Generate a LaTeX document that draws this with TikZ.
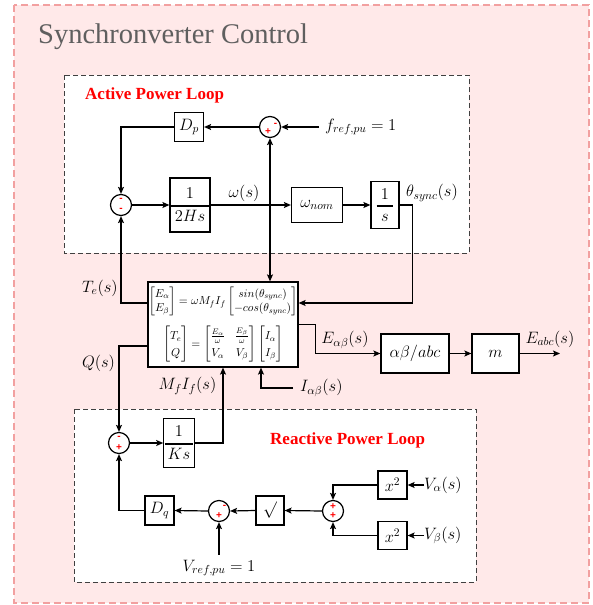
\RequirePackage{fix-cm}
\documentclass[tikz,border=0pt]{standalone}
\usepackage{amsmath}
\usepackage[no-math]{fontspec}
\setmainfont{Liberation Serif}
\newfontfamily\signfont{Liberation Sans}
\usetikzlibrary{arrows.meta}
\definecolor{panelpink}{RGB}{255,233,233}
\definecolor{panelline}{RGB}{242,160,160}
\definecolor{titlegray}{RGB}{95,95,95}

\begin{document}
\begin{tikzpicture}[x=1pt,y=-1pt,
  mth/.style={font=\fontsize{16.5}{19}\selectfont},
  block/.style={draw,line width=1.2pt,fill=white,inner sep=0pt,mth},
  sumj/.style={draw,circle,line width=1.2pt,fill=white,minimum size=21pt,inner sep=0pt},
  sgn/.style={text=red,inner sep=0pt,font=\fontsize{10}{10}\signfont\bfseries},
  lbl/.style={inner sep=0pt,mth},
  arr/.style={-{Stealth[length=7pt,width=6pt,inset=1.5pt]},line width=1.2pt},
  frame/.style={black!75,fill=white,line width=0.8pt,dash pattern=on 5pt off 3pt},
  looptitle/.style={text=red,font=\fontsize{17}{20}\selectfont\bfseries,inner sep=0pt,anchor=west}]

\useasboundingbox (0,0) rectangle (593,605);

% --- Outer panel ---
\draw[panelline,fill=panelpink,line width=1.5pt,dash pattern=on 7pt off 4pt] (14,5) rectangle (589,603);
\node[anchor=west,inner sep=0pt,text=titlegray,font=\fontsize{28.5}{32}\selectfont] (title) at (38,37) {Synchronverter Control};

% --- Loop frames ---
\draw[frame] (64,75) rectangle (469,253);
\draw[frame] (74,409) rectangle (476,582);
\node[looptitle] (aplt) at (85,95) {Active Power Loop};
\node[looptitle] (rplt) at (270,440) {Reactive Power Loop};

% --- Active power loop ---
\node[sumj] (s1) at (270,127) {};
\node[sumj] (s2) at (121,205) {};
\node[block,minimum width=29pt,minimum height=29pt] (Dp) at (189,127) {$D_p$};
\node[block,minimum width=38pt,minimum height=54pt] (H) at (190,205) {$\genfrac{}{}{1.3pt}{0}{1}{\mkern4mu2Hs\mkern4mu}$};
\node[block,minimum width=51pt,minimum height=35pt] (wn) at (317,205) {$\omega_{nom}$};
\node[block,minimum width=28pt,minimum height=47pt] (I) at (385,205) {$\genfrac{}{}{1.6pt}{0}{1}{\;s\;}$};
\node[lbl,anchor=west] (fref) at (325,127) {$f_{ref,pu}=1$};
\node[lbl] (wl) at (244,193) {$\omega(s)$};
\node[lbl,anchor=west] (thl) at (406,193) {$\theta_{sync}(s)$};
\coordinate (wtap) at (270,205);

% --- Machine equations ---
\node[block,minimum width=150pt,minimum height=85pt,align=center,font=\fontsize{11.5}{13}\selectfont] (big) at (223,324.5)
  {\renewcommand\arraystretch{1.15}%
   $\begin{bmatrix}E_\alpha\\E_\beta\end{bmatrix}=\omega M_fI_f\begin{bmatrix}sin(\theta_{sync})\\-cos(\theta_{sync})\end{bmatrix}$\\[9pt]
   \renewcommand\arraystretch{1.3}%
   $\begin{bmatrix}T_e\\Q\end{bmatrix}=\begin{bmatrix}\frac{E_\alpha}{\omega}&\frac{E_\beta}{\omega}\\V_\alpha&V_\beta\end{bmatrix}\begin{bmatrix}I_\alpha\\I_\beta\end{bmatrix}$};
\node[lbl] (tel) at (100,288) {$T_e(s)$};
\node[lbl] (ql) at (98.5,363) {$Q(s)$};
\node[lbl] (mfl) at (187.5,386) {$M_fI_f(s)$};
\node[lbl,anchor=west] (iab) at (300,388) {$I_{\alpha\beta}(s)$};

% --- Output stage ---
\node[block,minimum width=68pt,minimum height=39pt] (ab) at (415,353.5) {$\alpha\beta/abc$};
\node[block,minimum width=47pt,minimum height=39pt] (m) at (495.5,353.5) {$m$};
\coordinate (eout) at (560,353.5);
\node[lbl] (eabl) at (345,340) {$E_{\alpha\beta}(s)$};
\node[lbl] (eabcl) at (550,339) {$E_{abc}(s)$};

% --- Reactive power loop ---
\node[sumj] (s3) at (119,443) {};
\node[sumj] (s4) at (333,511) {};
\node[sumj] (s5) at (219,511) {};
\node[block,minimum width=30pt,minimum height=49pt] (K) at (179,443) {$\genfrac{}{}{1.3pt}{0}{1}{\mkern3muKs\mkern3mu}$};
\node[block,minimum width=28pt,minimum height=29pt] (sq) at (270,510.5) {$\surd$};
\node[block,minimum width=29pt,minimum height=29pt] (Dq) at (159.5,510.5) {$D_q$};
\foreach \nm/\y/\lab in {a/485/\alpha,b/535.5/\beta} {
  \node[block,minimum width=29pt,minimum height=28pt] (x\nm) at (392.5,\y) {$x^2$};
  \node[lbl,anchor=west] (v\nm) at (424,\y) {$V_{\lab}(s)$};
}
\node[lbl] (vref) at (219,568) {$V_{ref,pu}=1$};

% signs on the summing junctions
\foreach \nm/\px/\py/\sg in {a/268/131.5/+,b/275.5/124.5/-,c/121/200/-,d/121/209.5/-,
  e/119/438/-,f/119/448/+,g/333/506.5/+,h/333/516/+,i/224.5/507/-,j/219/515.5/+}
  \node[sgn] (sg\nm) at (\px,\py) {\sg};

% --- Connectors ---
\draw[arr] ([xshift=-6pt]fref.west) -- (s1.east);
\draw[arr] (s1.west) -- (Dp.east);
\draw[arr] (Dp.west) -| (s2.north);
\draw[arr] (s2.east) -- (H.west);
\draw[arr] (H.east) -- (wn.west);
\draw[arr] (wn.east) -- (I.west);
\draw[arr] (wtap) -- (s1.south);
\draw[arr] (wtap) -- ([xshift=47pt]big.north);
\draw[arr] (I.east) -- ++(13,0) |- ([yshift=21.5pt]big.east);
\draw[arr] ([yshift=21.5pt]big.west) -| (s2.south);
\draw[arr] ([yshift=-21.5pt]big.west) -| (s3.north);
\draw[arr] (big.east) -- ++(17,0) |- (ab.west);
\draw[arr] (ab.east) -- (m.west);
\draw[arr] (m.east) -- (eout);
\draw[arr] (s3.east) -- (K.west);
\draw[arr] (K.east) -| (big.south);
\draw[arr] ([xshift=-7pt]iab.west) -| ([xshift=38pt]big.south);
\draw[arr] (va.west) -- (xa.east);
\draw[arr] (vb.west) -- (xb.east);
\draw[arr] (xa.west) -| (s4.north);
\draw[arr] (xb.west) -| (s4.south);
\draw[arr] (s4.west) -- (sq.east);
\draw[arr] (sq.west) -- (s5.east);
\draw[arr] (s5.west) -- (Dq.east);
\draw[arr] (Dq.west) -| (s3.south);
\draw[arr] ([yshift=5pt]vref.north) -- (s5.south);

\end{tikzpicture}
\end{document}
